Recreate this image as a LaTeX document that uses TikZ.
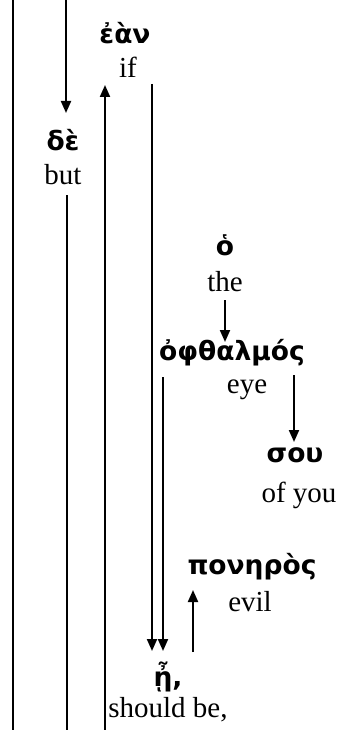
\documentclass[tikz,border=0pt]{standalone}
\usepackage{fontspec}
\setmainfont{Liberation Serif}
\newfontfamily\gk{DejaVu Sans}
\usetikzlibrary{arrows.meta}
\begin{document}
\begin{tikzpicture}[x=1pt,y=-1pt,
  gr/.style={inner sep=0pt,anchor=center,font=\gk\bfseries\fontsize{26.5}{30}\selectfont},
  en/.style={inner sep=0pt,anchor=center,font=\fontsize{29}{32}\selectfont},
  ln/.style={line width=2pt},
  arr/.style={line width=2pt,-{Triangle[width=10pt,length=12pt]}}]
\useasboundingbox (0,0) rectangle (345,730);
% words
\node[gr] (ean) at (125,33) {ἐὰν};
\node[en] (if) at (128,67) {if};
\node[gr] (de) at (63,140) {δὲ};
\node[en] (but) at (63,175) {but};
\node[gr] (ho) at (225,245) {ὁ};
\node[en] (the) at (225,282) {the};
\node[gr] (opth) at (232,353) {ὀφθαλμός};
\node[en] (eye) at (247,390) {eye};
\node[gr] (sou) at (295,455) {σου};
\node[en] (ofyou) at (299,495) {of you};
\node[gr] (pon) at (252,567) {πονηρὸς};
\node[en] (evil) at (250,602) {evil};
\node[gr] (ee) at (168,677) {ᾖ,};
\node[en] (sb) at (168,710) {should be,};
% connector ends
\coordinate (t1) at (13,0);   \coordinate (b1) at (13,730);
\coordinate (t2) at (66,0);   \coordinate (h2) at (66,113);
\coordinate (s3) at (67,195); \coordinate (b3) at (67,730);
\coordinate (b4) at (105,730);\coordinate (h4) at (105,85);
\coordinate (s5) at (152,84); \coordinate (h5) at (152,651);
\coordinate (s6) at (163,377);\coordinate (h6) at (163,651);
\coordinate (s7) at (225,300);\coordinate (h7) at (225,342);
\coordinate (s8) at (294,375);\coordinate (h8) at (294,442);
\coordinate (s9) at (193,652);\coordinate (h9) at (193,590);
% connectors
\draw[ln] (t1) -- (b1);
\draw[arr] (t2) -- (h2);
\draw[ln] (s3) -- (b3);
\draw[arr] (b4) -- (h4);
\draw[arr] (s5) -- (h5);
\draw[arr] (s6) -- (h6);
\draw[arr] (s7) -- (h7);
\draw[arr] (s8) -- (h8);
\draw[arr] (s9) -- (h9);
\end{tikzpicture}
\end{document}
